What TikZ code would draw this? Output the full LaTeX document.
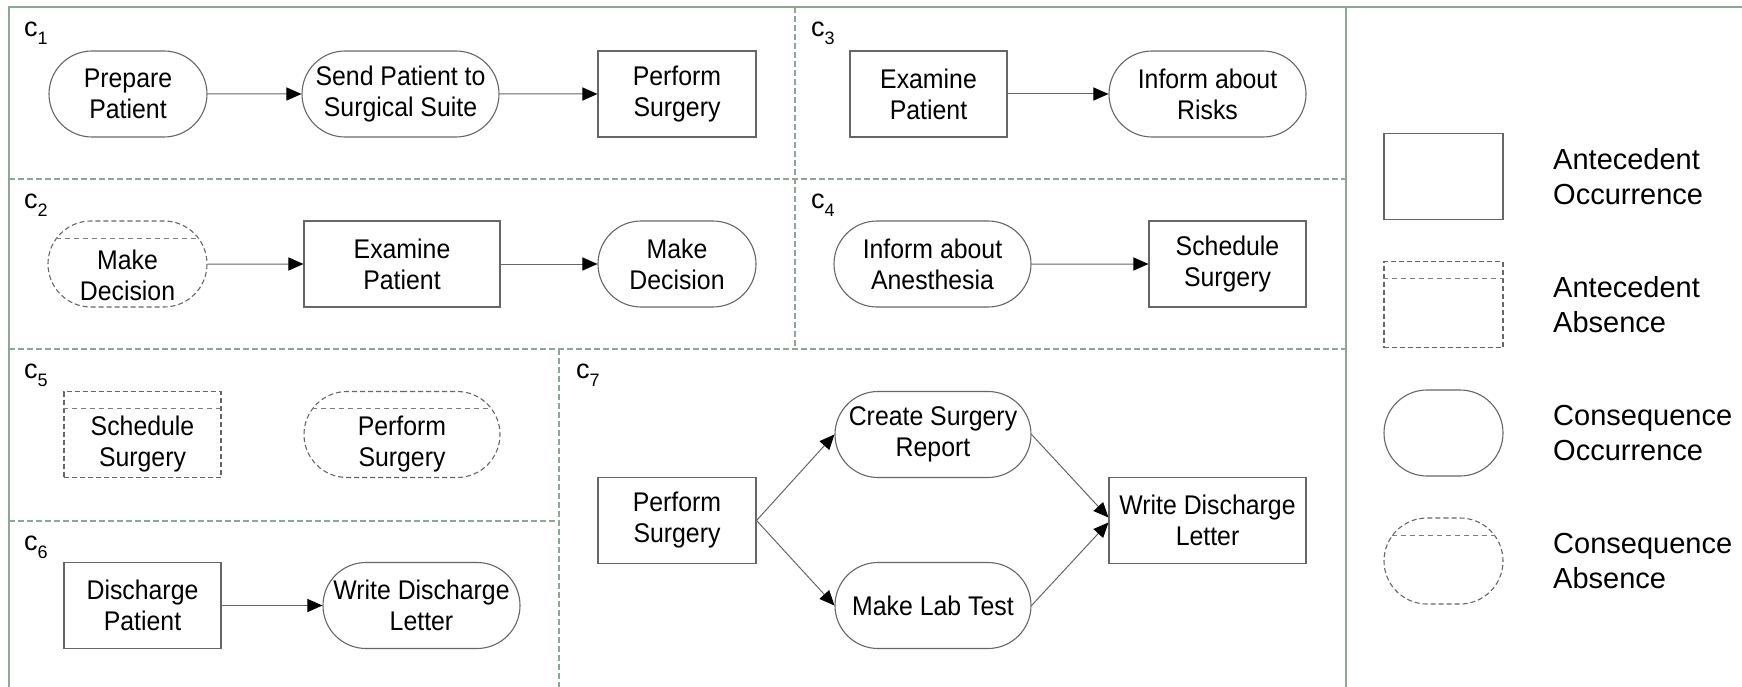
\documentclass[tikz,border=0pt]{standalone}
\usepackage{fontspec}
\setmainfont{Liberation Sans}
\newfontfamily\nodefont[FakeStretch=0.92]{Liberation Sans}
\newfontfamily\legendfont{Liberation Sans}
\usetikzlibrary{arrows.meta,shapes.misc,calc}

\definecolor{framegreen}{HTML}{8DA797}
\definecolor{edgegray}{HTML}{666666}

% lane label: a "c" with a lowered index
\newcommand\lanelabel[1]{c\raisebox{-8pt}{\fontsize{18pt}{18pt}\selectfont #1}}

\tikzset{
  boxfont/.style={font={\nodefont\fontsize{27pt}{31pt}\selectfont}},
  basebox/.style={draw=edgegray, line width=1.1pt, minimum height=86pt,
    inner sep=0pt, align=center, boxfont},
  antocc/.style={basebox, rectangle, minimum width=#1},
  antocc/.default=158pt,
  consocc/.style={basebox, rounded rectangle, minimum width=#1},
  consocc/.default=158pt,
  absentdash/.style={dash pattern=on 5pt off 3pt},
  antabs/.style={antocc=#1, absentdash},
  antabs/.default=158pt,
  consabs/.style={consocc=#1, absentdash},
  consabs/.default=158pt,
  stripe/.style={draw=edgegray!85, line width=1pt, dash pattern=on 5pt off 4pt},
  % text of an absence box sits in the part below its top stripe
  absenttext/.style={inner sep=0pt, align=center, boxfont},
  flow/.style={draw=edgegray, line width=1pt,
    -{Triangle[length=15pt, width=13pt, black]}},
  lane/.style={anchor=base west, inner sep=0pt,
    font={\legendfont\fontsize{27pt}{30pt}\selectfont}},
  legendtext/.style={anchor=west, inner sep=0pt, align=left,
    font={\legendfont\fontsize{29pt}{35pt}\selectfont}},
  framesolid/.style={draw=framegreen, line width=1.5pt},
  framedash/.style={draw=framegreen, line width=1.2pt, dash pattern=on 6pt off 3pt},
}

% top stripe of an absence box; #2 is the inset from each side
\newcommand\absstripe[2]{%
  \draw[stripe] ($(#1.west |- #1.north)+(#2,18)$) -- ($(#1.east |- #1.north)+(-#2,18)$);}

\begin{document}
\begin{tikzpicture}[x=1pt, y=-1pt]
\useasboundingbox (0,0) rectangle (1742,687);
\fill[white] (0,0) rectangle (1742,687);

% frame and lane dividers
\coordinate (ftl) at (9,7);
\coordinate (ftr) at (1742,7);
\coordinate (fbl) at (9,687);
\coordinate (dtop) at (1346,7);
\coordinate (dbot) at (1346,687);
\draw[framesolid] (ftr) -- (ftl) -- (fbl);
\draw[framesolid] (dtop) -- (dbot);

\coordinate (h1a) at (9,179);   \coordinate (h1b) at (1346,179);
\coordinate (h2a) at (9,349);   \coordinate (h2b) at (1346,349);
\coordinate (h3a) at (9,521);   \coordinate (h3b) at (559,521);
\coordinate (v1a) at (795,7);   \coordinate (v1b) at (795,349);
\coordinate (v2a) at (559,349); \coordinate (v2b) at (559,687);
\draw[framedash] (h1a) -- (h1b);
\draw[framedash] (h2a) -- (h2b);
\draw[framedash] (h3a) -- (h3b);
\draw[framedash] (v1a) -- (v1b);
\draw[framedash] (v2a) -- (v2b);

% lane labels
\node[lane] (lc1) at (24,37)  {\lanelabel{1}};
\node[lane] (lc2) at (24,208) {\lanelabel{2}};
\node[lane] (lc3) at (811,37) {\lanelabel{3}};
\node[lane] (lc4) at (811,208) {\lanelabel{4}};
\node[lane] (lc5) at (24,378) {\lanelabel{5}};
\node[lane] (lc6) at (24,550) {\lanelabel{6}};
\node[lane] (lc7) at (576,378) {\lanelabel{7}};

% c1
\node[consocc] (prep) at (128,94) {Prepare\\Patient};
\node[consocc=197pt] (send) at (400.5,94) {Send Patient to\\Surgical Suite};
\node[antocc] (perf1) at (677,94) {Perform\\Surgery};
\draw[flow] (prep) -- (send);
\draw[flow] (send) -- (perf1);

% c2
\node[consabs=159pt] (md1) at (127.5,264) {};
\absstripe{md1}{9}
\node[absenttext] (md1t) at ([yshift=-11pt]md1.center) {Make\\Decision};
\node[antocc=196pt] (ex2) at (402,264) {Examine\\Patient};
\node[consocc] (md2) at (677,264) {Make\\Decision};
\draw[flow] (md1) -- (ex2);
\draw[flow] (ex2) -- (md2);

% c3
\node[antocc=157pt] (ex3) at (928.5,94) {Examine\\Patient};
\node[consocc=197pt] (risk) at (1207.5,94) {Inform about\\Risks};
\draw[flow] (ex3) -- (risk);

% c4
\node[consocc=197pt] (anes) at (932.5,264) {Inform about\\Anesthesia};
\node[antocc=157pt] (sched4) at (1227.5,264) {Schedule\\Surgery};
\draw[flow] (anes) -- (sched4);

% c5
\node[antabs=157pt] (sched5) at (142.5,434.5) {};
\absstripe{sched5}{0}
\node[absenttext] (sched5t) at ([yshift=-10pt]sched5.center) {Schedule\\Surgery};
\node[consabs=196pt] (perf5) at (402,434.5) {};
\absstripe{perf5}{9}
\node[absenttext] (perf5t) at ([yshift=-10pt]perf5.center) {Perform\\Surgery};

% c6
\node[antocc=157pt] (disch) at (142.5,605.5) {Discharge\\Patient};
\node[consocc=197pt] (letter6) at (421.5,605.5) {Write Discharge\\Letter};
\draw[flow] (disch) -- (letter6);

% c7
\node[antocc] (perf7) at (677,520.5) {Perform\\Surgery};
\node[consocc=196pt] (report) at (933,434.5) {Create Surgery\\Report};
\node[consocc=196pt] (lab) at (933,605.5) {Make Lab Test};
\node[antocc=197pt] (letter7) at (1207.5,520.5) {Write Discharge\\Letter};
\draw[flow] (perf7.east) -- (report.west);
\draw[flow] (perf7.east) -- (lab.west);
\draw[flow] (report.east) -- ([yshift=3pt]letter7.west);
\draw[flow] (lab.east) -- ([yshift=-2pt]letter7.west);

% legend
\node[antocc=119pt] (lg1) at (1443.5,176.5) {};
\node[antabs=119pt] (lg2) at (1443.5,304.5) {};
\absstripe{lg2}{0}
\node[consocc=119pt] (lg3) at (1443.5,433) {};
\node[consabs=119pt] (lg4) at (1443.5,561) {};
\absstripe{lg4}{9}
\node[legendtext] (lt1) at (1553,176.5) {Antecedent\\Occurrence};
\node[legendtext] (lt2) at (1553,304.5) {Antecedent\\Absence};
\node[legendtext] (lt3) at (1553,433) {Consequence\\Occurrence};
\node[legendtext] (lt4) at (1553,561) {Consequence\\Absence};
\end{tikzpicture}
\end{document}
